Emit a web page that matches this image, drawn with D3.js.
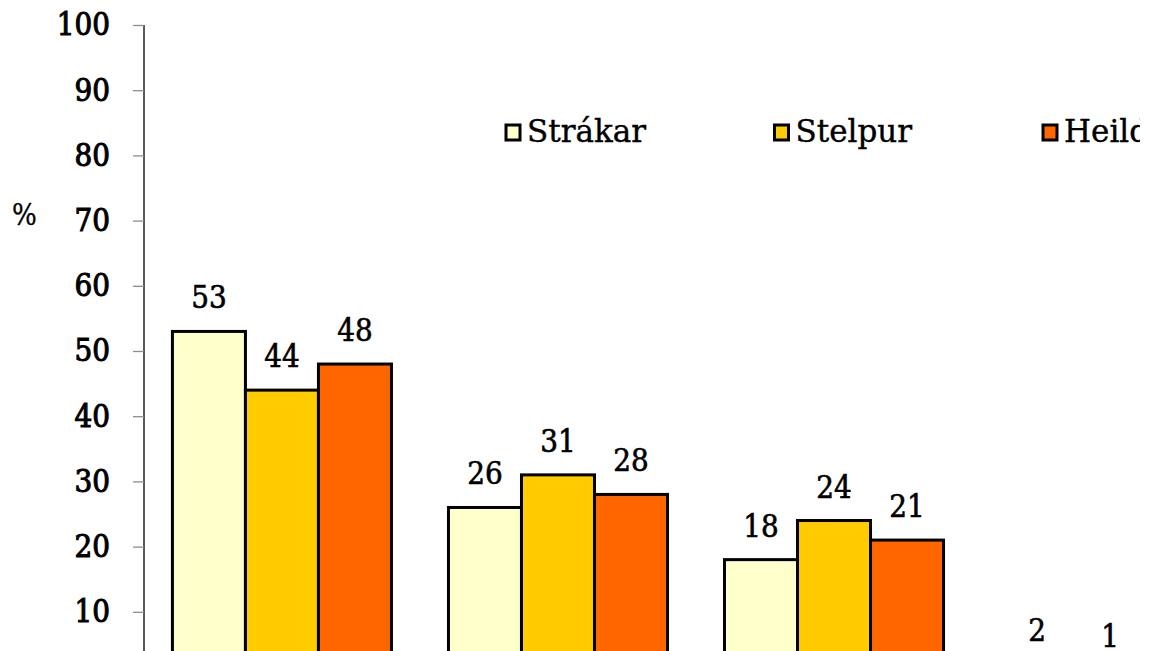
<!DOCTYPE html>
<html>
<head>
<meta charset="utf-8">
<script src="https://cdn.jsdelivr.net/npm/d3@7/dist/d3.min.js"></script>
<style>
html,body{margin:0;padding:0;background:#fff;overflow:hidden;}
svg{display:block;}
.axisy .domain{stroke:#000;stroke-width:1.3;}
.axisy .tick line{stroke:#8c8c8c;stroke-width:1.3;}
.axisy .tick text{font-family:"DejaVu Serif Condensed","DejaVu Serif",serif;font-stretch:condensed;font-size:31px;fill:#000;stroke:#000;stroke-width:1;}
.tag{font-family:"DejaVu Serif Condensed","DejaVu Serif",serif;font-stretch:condensed;font-size:31px;fill:#000;stroke:#000;stroke-width:0.6;}
.legend text{font-family:"DejaVu Serif",serif;font-size:31px;fill:#000;stroke:#000;stroke-width:0.4;}
</style>
</head>
<body>
<svg id="chart" width="1155" height="651"></svg>
<script>
// gögn
const categories = ["A","B","C","D"];
const series = ["Strákar","Stelpur","Heild"];
const strakar = [53,26,18,2];
const stelpur = [44,31,24,1];
const heild = [48,28,21,1];
const yTicks = [10,20,30,40,50,60,70,80,90,100];
const colors = ["#FFFFCC","#FFCC00","#FF6600"];

const values = [strakar,stelpur,heild];
const data = categories.map((c,i)=>({cat:c, vals:series.map((s,j)=>({s:s, v:values[j][i]}))}));

const svg = d3.select("#chart");

const y = d3.scaleLinear().domain([0,100]).range([677,25]);
const x0 = d3.scaleBand().domain(categories).range([144,1248]).paddingInner(0.2065).paddingOuter(0.103);
const x1 = d3.scaleBand().domain(series).range([0,x0.bandwidth()]);
const color = d3.scaleOrdinal().domain(series).range(colors);

// y ás
const axisY = d3.axisLeft(y).tickValues(yTicks).tickSize(11).tickPadding(23);
svg.append("g")
	.attr("class","axisy")
	.attr("transform","translate(144,0)")
	.call(axisY)
	.call(g=>g.select(".domain").attr("d","M0,25V651"));

svg.append("text")
	.attr("class","tag")
	.attr("x",24.5)
	.attr("y",225)
	.attr("text-anchor","middle")
	.style("font-size","29px")
	.style("stroke-width","0.3")
	.text("%");

// súlur
const groups = svg.append("g").selectAll("g")
	.data(data)
	.enter()
	.append("g")
	.attr("transform",d=>`translate(${x0(d.cat)},0)`);

groups.selectAll("rect")
	.data(d=>d.vals)
	.enter()
	.append("rect")
	.attr("x",d=>x1(d.s))
	.attr("y",d=>y(d.v))
	.attr("width",x1.bandwidth())
	.attr("height",d=>y(0)-y(d.v))
	.attr("fill",d=>color(d.s))
	.attr("stroke","#000")
	.attr("stroke-width",3);

groups.selectAll("text")
	.data(d=>d.vals)
	.enter()
	.append("text")
	.attr("class","tag")
	.attr("text-anchor","middle")
	.attr("x",d=>x1(d.s)+x1.bandwidth()/2)
	.attr("y",d=>y(d.v)-23)
	.text(d=>d.v);

// skýringar, klippt eins og á myndinni
svg.append("clipPath")
	.attr("id","legclip")
	.append("rect")
	.attr("x",0).attr("y",0)
	.attr("width",1140).attr("height",651);
const legend = svg.append("g")
	.attr("class","legend")
	.attr("clip-path","url(#legclip)")
	.selectAll("g")
	.data(series)
	.enter()
	.append("g")
	.attr("transform",(d,i)=>`translate(${506+i*268.5},125)`);
legend.append("rect")
	.attr("width",14)
	.attr("height",15)
	.attr("fill",d=>color(d))
	.attr("stroke","#000")
	.attr("stroke-width",3);
legend.append("text")
	.attr("x",21)
	.attr("y",17)
	.text(d=>d);
</script>
</body>
</html>
